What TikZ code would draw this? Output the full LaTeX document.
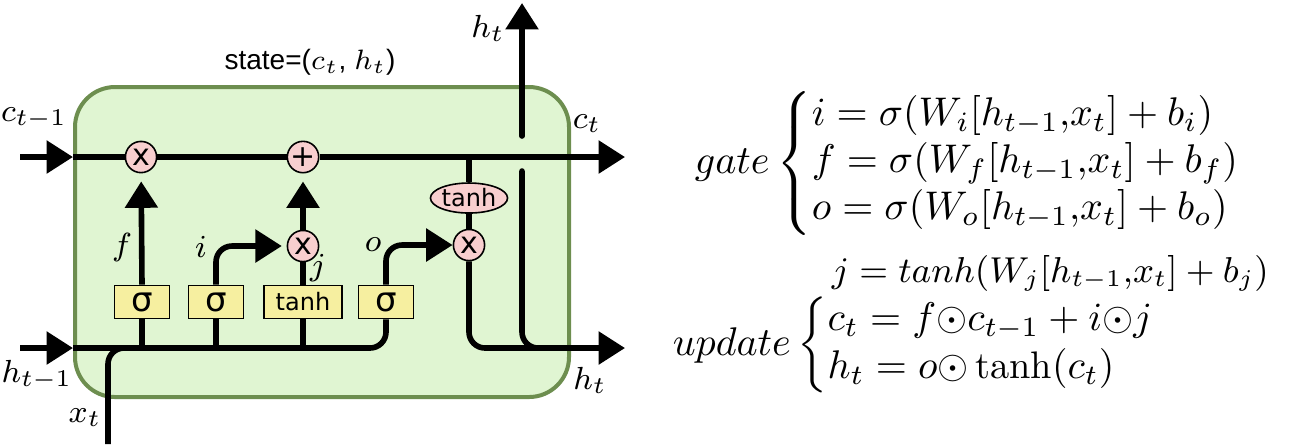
\documentclass[tikz,border=0pt]{standalone}
\usepackage{fontspec}
\setsansfont{Liberation Sans}
\newfontfamily\djv{DejaVu Sans}
\usetikzlibrary{arrows.meta,shapes.geometric}
\definecolor{cellfill}{HTML}{E0F5D2}
\definecolor{celldraw}{HTML}{6D8E4F}
\definecolor{opfill}{HTML}{F8CFCF}
\definecolor{gatefill}{HTML}{F6EFA0}
\tikzset{
  wire/.style={line width=1.4pt},
  arr/.style={wire,-{Triangle[length=6.6pt,width=8pt]}},
  opnode/.style={circle,draw,line width=0.4pt,fill=opfill,minimum size=7.8pt,inner sep=0pt,font=\djv\fontsize{7.5}{7}\selectfont},
  gatebox/.style={draw,fill=gatefill,line width=0.4pt,minimum width=13.75pt,minimum height=8.25pt,inner sep=0pt},
  sig/.style={gatebox,font=\djv\fontsize{8.5}{8}\selectfont},
  tanhbox/.style={gatebox,minimum width=19.5pt,font=\djv\fontsize{6}{6}\selectfont},
  lbl/.style={font=\fontsize{8}{9}\selectfont,inner sep=0pt},
  eq/.style={font=\fontsize{9.6}{11.8}\selectfont,inner sep=0pt}
}
\begin{document}
\begin{tikzpicture}[x=0.25pt,y=-0.25pt]
\useasboundingbox (0,0) rectangle (1292,444);
% cell
\draw[celldraw,fill=cellfill,line width=1pt,rounded corners=10pt] (75,87) rectangle (569,397);
% coordinates
\coordinate (cin) at (20,157);
\coordinate (cl) at (73,157);
\coordinate (cout) at (625,157);
\coordinate (cj) at (469,157);
\coordinate (hin) at (20,348);
\coordinate (hl) at (73,348);
\coordinate (hout) at (625,348);
\coordinate (xin) at (108,444);
\coordinate (vlow) at (522,171);
\coordinate (vup) at (522,136);
\coordinate (htop) at (522,3);
% nodes
\node[opnode] (m1) at (141,157) {x};
\node[opnode] (a1) at (303,157) {+};
\node[opnode] (m2) at (303,246) {x};
\node[opnode] (m3) at (469,245) {x};
\node[ellipse,draw,line width=0.4pt,fill=opfill,minimum width=19pt,minimum height=7.5pt,inner sep=0pt,font=\djv\fontsize{6}{6}\selectfont] (th) at (469,198) {tanh};
\node[sig] (g1) at (142,302) {σ};
\node[sig] (g2) at (216,302) {σ};
\node[tanhbox] (g3) at (303,302) {tanh};
\node[sig] (g4) at (386,302) {σ};
% wires
\draw[arr] (cin) -- (cl);
\draw[wire] (cl) -- (m1) (m1) -- (a1);
\draw[arr] (a1) -- (cout);
\draw[arr] (hin) -- (hl);
\draw[wire,rounded corners=4pt] (hl) -- (g4.south |- hl) -- (g4.south);
\draw[wire,rounded corners=4pt] (xin) -- (xin |- hl) -- ++(30,0);
\draw[wire] (g1.south) -- (g1.south |- hl);
\draw[wire] (g2.south) -- (g2.south |- hl);
\draw[wire] (g3.south) -- (g3.south |- hl);
\draw[arr,shorten >=2pt] (g1.north) -- (m1);
\draw[arr,rounded corners=4pt,shorten >=1.2pt] (g2.north) -- (g2.north |- m2) -- (m2);
\draw[wire] (g3.north) -- (m2);
\draw[arr,shorten >=2pt] (m2) -- (a1);
\draw[arr,rounded corners=4pt] (g4.north) -- (g4.north |- m3) -- (m3);
\draw[wire] (cj) -- (th);
\draw[wire] (th) -- (m3);
\draw[arr,rounded corners=4pt] (m3) -- (m3 |- hout) -- (hout);
\draw[wire,line cap=round,rounded corners=4pt] (vlow) -- (vlow |- hout) -- ++(20,0);
\draw[arr,line cap=round] (vup) -- (htop);
% labels
\node[lbl] (lc) at (34,118) {$c_{t-1}$};
\node[lbl] (lh) at (37,375) {$h_{t-1}$};
\node[lbl] (lx) at (85,418) {$x_t$};
\node[lbl] (lf) at (122,247) {$f$};
\node[lbl] (li) at (201,247) {$i$};
\node[lbl] (lj) at (318,268) {$j$};
\node[lbl] (lo) at (373,245) {$o$};
\node[lbl] (lht) at (488,28) {$h_t$};
\node[lbl] (lct) at (587,124) {$c_t$};
\node[lbl] (lhb) at (590,380) {$h_t$};
\node[inner sep=0pt,font=\sffamily\fontsize{7}{8}\selectfont] (st) at (310,62) {state=($c_t$, $h_t$)};
% equations
\node[eq,anchor=west] (gate) at (694,163) {$gate\left\{\begin{array}{@{}l@{}} i=\sigma(W_i[h_{t-1}{,}x_t]+b_i)\\ f=\sigma(W_f[h_{t-1}{,}x_t]+b_f)\\ o=\sigma(W_o[h_{t-1}{,}x_t]+b_o)\end{array}\right.$};
\node[eq,anchor=base west,font=\fontsize{9}{11}\selectfont] (jeq) at (831,282) {$j=tanh(W_j[h_{t-1}{,}x_t]+b_j)$};
\node[eq,anchor=west] (upd) at (672,345) {$update\left\{\begin{array}{@{}l@{}} c_t=f{\odot}c_{t-1}+i{\odot}j\\ h_t=o{\odot}\tanh(c_t)\end{array}\right.$};
\end{tikzpicture}
\end{document}
